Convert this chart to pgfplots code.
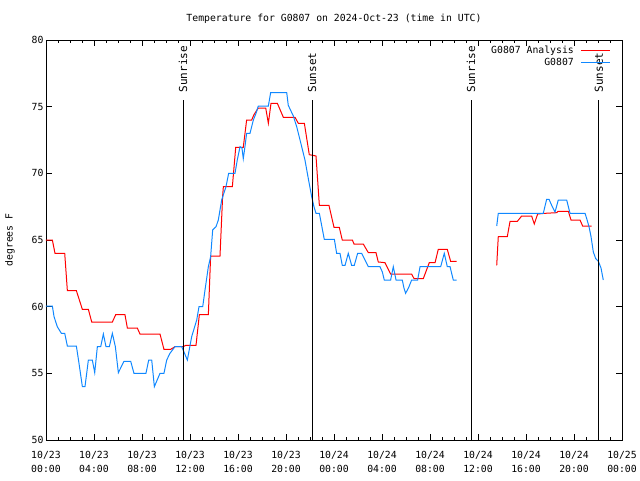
\documentclass[border=0pt]{standalone}
\usepackage{pgfplots}
\pgfplotsset{compat=1.18}
\usepackage{fontspec}
\setmainfont{DejaVu Sans Mono}
\definecolor{anared}{RGB}{255,0,0}
\definecolor{obsblue}{RGB}{16,136,255}
\begin{document}
\begin{tikzpicture}
\begin{axis}[
  scale only axis, width=576pt, height=400pt,
  xmin=0, xmax=48, ymin=50, ymax=80,
  axis line style={line width=0.8pt},
  every tick/.style={black, line width=0.8pt},
  tick align=inside,
  major tick length=6pt, minor tick length=3pt,
  xtick={0,4,...,48},
  minor x tick num=3,
  xticklabels={{10/23\\00:00},{10/23\\04:00},{10/23\\08:00},{10/23\\12:00},{10/23\\16:00},{10/23\\20:00},{10/24\\00:00},{10/24\\04:00},{10/24\\08:00},{10/24\\12:00},{10/24\\16:00},{10/24\\20:00},{10/25\\00:00}},
  xticklabel style={align=center, font=\fontsize{9.8}{14}\selectfont, yshift=-8pt},
  ytick={50,55,...,80},
  yticklabel style={font=\fontsize{9.8}{12}\selectfont, xshift=1pt},
  /pgf/number format/assume math mode=true,
  ylabel={degrees F},
  ylabel style={font=\fontsize{9.8}{12}\selectfont, at={(axis description cs:-0.0625,0.5)}, anchor=center},
  title={Temperature for G0807 on 2024-Oct-23 (time in UTC)},
  title style={font=\fontsize{9.8}{12}\selectfont, at={(axis description cs:0.5,1)}, anchor=south, yshift=7pt},
  unbounded coords=jump,
  legend plot pos=none,
  legend cell align=right,
  legend style={draw=none, fill=none, inner sep=0pt, font=\fontsize{9.8}{12}\selectfont,
    nodes={inner sep=0pt, text height=7.2pt, text depth=2pt}, row sep=2.8pt,
    at={(axis description cs:0.9167,0.984)}, anchor=north east},
]
\addplot[anared, line width=1pt] coordinates {
(0.0,65.0) (0.53,65.0) (0.75,64.0) (1.56,64.0) (1.78,61.2) (2.53,61.2) (3.03,59.8) (3.53,59.8)
(3.81,58.85) (5.53,58.85) (5.81,59.4) (6.58,59.4) (6.78,58.4) (7.61,58.4) (7.83,57.95) (9.5,57.95)
(9.83,56.8) (10.39,56.8) (10.75,57.0) (11.44,57.0) (11.64,57.1) (12.5,57.1) (12.78,59.4) (13.53,59.4)
(13.72,63.8) (14.5,63.8) (14.72,68.3) (14.78,69.0) (15.53,69.0) (15.81,71.95) (16.44,71.95)
(16.72,74.0) (17.14,74.0) (17.33,74.4) (17.69,74.9) (18.31,74.9) (18.53,73.75) (18.75,75.25)
(19.28,75.25) (19.78,74.2) (20.75,74.2) (21.03,73.75) (21.53,73.75) (21.94,71.4) (22.5,71.3)
(22.78,67.6) (23.58,67.6) (24.0,65.95) (24.44,65.95) (24.69,65.0) (25.53,65.0) (25.67,64.7)
(26.44,64.7) (26.86,64.05) (27.5,64.05) (27.69,63.35) (28.25,63.3) (28.72,62.45) (30.47,62.45)
(30.67,62.1) (31.44,62.1) (31.94,63.3) (32.42,63.3) (32.69,64.3) (33.44,64.3) (33.72,63.4) (34.22,63.4)
(36,nan)
(37.56,63.1) (37.69,65.25) (38.44,65.25) (38.67,66.4) (39.28,66.4) (39.64,66.8) (40.47,66.8)
(40.69,66.2) (40.97,66.95) (41.58,67.0) (42.56,67.05) (42.67,67.15) (43.53,67.15) (43.75,66.5)
(44.5,66.5) (44.72,66.05) (45.47,66.05)
};
\addlegendentry{G0807 Analysis}
\addplot[obsblue, line width=1pt] coordinates {
(0.0,60.05) (0.53,60.05) (0.67,59.25) (0.94,58.5) (1.28,58.0) (1.56,58.0) (1.78,57.05) (2.53,57.05)
(2.75,55.75) (3.03,54.0) (3.25,54.0) (3.53,56.0) (3.86,56.0) (4.06,55.05) (4.28,57.0) (4.56,57.0)
(4.78,57.95) (5.0,57.0) (5.28,57.0) (5.53,58.0) (5.78,57.0) (6.03,55.05) (6.5,55.9) (7.06,55.9)
(7.33,55.0) (8.33,55.0) (8.56,56.0) (8.81,56.0) (9.03,54.0) (9.5,55.0) (9.83,55.0) (10.06,56.0)
(10.33,56.5) (10.75,57.0) (11.31,57.0) (11.78,56.0) (12.14,57.75) (12.56,59.0) (12.75,60.0)
(13.06,60.0) (13.25,61.25) (13.53,63.0) (13.72,63.75) (13.89,65.75) (14.17,66.0) (14.36,66.5)
(14.64,68.0) (15.0,69.0) (15.22,70.0) (15.75,70.0) (15.94,71.0) (16.17,72.0) (16.33,71.9)
(16.44,71.1) (16.58,72.0) (16.72,73.0) (17.0,73.0) (17.28,74.0) (17.5,74.5) (17.69,75.05)
(18.53,75.05) (18.72,76.05) (20.06,76.05) (20.19,75.1) (20.61,74.3) (20.89,73.5) (21.17,72.5)
(21.58,71.0) (21.86,69.6) (22.14,68.25) (22.33,67.5) (22.5,67.0) (22.78,67.0) (22.97,66.1)
(23.19,65.05) (24.03,65.05) (24.22,64.0) (24.5,64.0) (24.69,63.1) (24.92,63.1) (25.19,64.0)
(25.47,63.1) (25.69,63.1) (25.97,64.0) (26.31,64.0) (26.58,63.5) (26.86,63.0) (27.83,63.0)
(28.03,62.6) (28.19,62.0) (28.72,62.0) (28.94,63.0) (29.17,62.0) (29.69,62.0) (29.83,61.4)
(29.97,61.0) (30.25,61.5) (30.47,62.0) (30.97,62.0) (31.17,63.0) (32.89,63.0) (33.19,64.0)
(33.44,63.0) (33.67,63.0) (33.94,62.0) (34.22,62.0)
(36,nan)
(37.56,66.05) (37.69,67.0) (41.44,67.0) (41.72,68.05) (41.92,68.05) (42.14,67.6) (42.42,67.1)
(42.69,68.0) (43.39,68.0) (43.67,67.0) (44.92,67.0) (45.06,66.6) (45.25,66.0) (45.42,65.25)
(45.61,64.1) (45.81,63.6) (46.03,63.4) (46.25,62.9) (46.44,62.0)
};
\addlegendentry{G0807}
\addplot[black, line width=1pt, forget plot] coordinates {(11.42,50) (11.42,75.5)};
\addplot[black, line width=1pt, forget plot] coordinates {(22.17,50) (22.17,75.5)};
\addplot[black, line width=1pt, forget plot] coordinates {(35.42,50) (35.42,75.5)};
\addplot[black, line width=1pt, forget plot] coordinates {(46.08,50) (46.08,75.5)};
\node[rotate=90, anchor=west, inner sep=0pt, font=\fontsize{11}{12}\selectfont] at (axis cs:11.42,76.05) {Sunrise};
\node[rotate=90, anchor=west, inner sep=0pt, font=\fontsize{11}{12}\selectfont] at (axis cs:22.17,76.05) {Sunset};
\node[rotate=90, anchor=west, inner sep=0pt, font=\fontsize{11}{12}\selectfont] at (axis cs:35.42,76.05) {Sunrise};
\node[rotate=90, anchor=west, inner sep=0pt, font=\fontsize{11}{12}\selectfont] at (axis cs:46.08,76.05) {Sunset};
% legend sample lines
\addplot[anared, line width=1pt, forget plot] coordinates {(44.58,79.23) (47.0,79.23)};
\addplot[obsblue, line width=1pt, forget plot] coordinates {(44.58,78.35) (47.0,78.35)};
\end{axis}
\pgfresetboundingbox
\path[use as bounding box] (-46pt,-40pt) rectangle (594pt,440pt);
\end{tikzpicture}
\end{document}
